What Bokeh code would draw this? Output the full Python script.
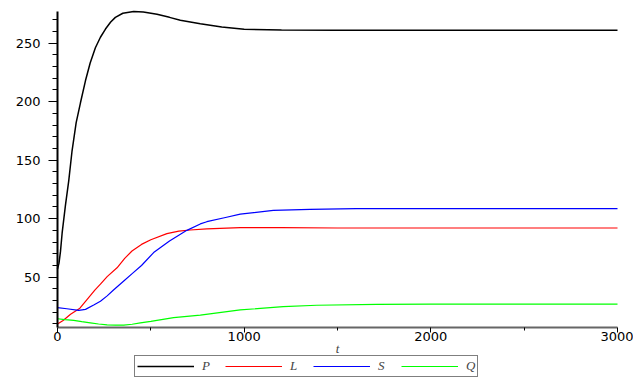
from bokeh.plotting import figure
from bokeh.models import Range1d, FixedTicker, Legend, LegendItem
from bokeh.embed import file_html
from bokeh.resources import INLINE

# P (black)
t_P = [0, 8, 16, 25, 43, 60, 78, 100, 123, 150, 175, 203, 230, 257, 285, 310, 350, 408,
       460, 533, 600, 658, 765, 880, 1000, 1200, 1500, 2000, 3000]
P = [57, 62, 72, 88, 112, 132, 158, 182, 199, 218, 233, 246, 255, 262, 268, 272, 275.5, 277,
     276.5, 274.6, 272, 269.5, 266.6, 263.8, 261.8, 261.2, 261, 261, 261]

# L (red)
t_L = [0, 30, 70, 120, 159, 200, 230, 266, 319, 360, 399, 450, 500, 586, 650, 711, 800,
       979, 1200, 1500, 2000, 3000]
L = [10, 13, 18.3, 23.5, 31, 39, 44, 50.5, 58, 66, 72.4, 78, 82, 87.2, 89.3, 90.3, 91.3,
     92.3, 92.3, 92, 92, 92]

# S (blue)
t_S = [0, 50, 114, 150, 194, 230, 266, 300, 355, 400, 450, 515, 600, 693, 765, 800, 900,
       979, 1156, 1353, 1600, 2000, 3000]
S = [24, 23, 21.7, 22.5, 26.2, 29.5, 34, 39, 46.7, 53, 60, 71, 81, 90, 95.5, 97.4, 101,
     103.8, 107, 108, 108.5, 108.5, 108.5]

# Q (green)
t_Q = [0, 40, 87, 130, 176, 220, 266, 310, 355, 400, 444, 500, 622, 765, 979, 1209, 1389,
       1710, 2000, 3000]
Q = [14.5, 13.8, 13.1, 12, 11, 10, 9.3, 9, 9.1, 9.8, 11, 12.3, 15.4, 17.5, 22, 24.8, 26,
     26.8, 27, 27]

x_major = [0, 1000, 2000, 3000]
x_minor = [500, 1500, 2500]
y_major = [50, 100, 150, 200, 250]
y_minor = [10, 20, 30, 40, 60, 70, 80, 90, 110, 120, 130, 140, 160, 170, 180, 190,
           210, 220, 230, 240, 260, 270]
x_min, x_max = 0, 3000
y_min, y_max = 7, 277

W, H = 633, 379
# pixel layout of the axes box inside the canvas
left_px, right_px, top_px, bottom_px = 57, 617, 11, 327
ux = (x_max - x_min) / (right_px - left_px)
uy = (y_max - y_min) / (bottom_px - top_px)

p = figure(width=W, height=H, output_backend="svg", toolbar_location=None,
           x_range=Range1d(x_min - left_px * ux, x_max + (W - right_px) * ux),
           y_range=Range1d(y_min - (H - bottom_px) * uy, y_max + top_px * uy),
           min_border=0)
p.outline_line_color = None
p.grid.visible = False
p.background_fill_color = "white"

rP = p.line(t_P, P, line_color="black", line_width=1.5)
rL = p.line(t_L, L, line_color="#ff0000", line_width=1.2)
rS = p.line(t_S, S, line_color="#0000ff", line_width=1.2)
rQ = p.line(t_Q, Q, line_color="#00ff00", line_width=1.2)

p.xaxis.ticker = FixedTicker(ticks=x_major, minor_ticks=x_minor)
p.yaxis.ticker = FixedTicker(ticks=y_major, minor_ticks=y_minor)

for ax in (p.xaxis, p.yaxis):
    ax.major_label_text_font = "DejaVu Sans"
    ax.major_label_text_font_size = "13px"
    ax.major_label_text_color = "black"
    ax.major_tick_line_color = "black"
    ax.minor_tick_line_color = "black"
    ax.major_tick_in = 0
    ax.minor_tick_in = 0

p.yaxis.fixed_location = x_min
p.yaxis.bounds = (y_min, y_max)
p.yaxis.axis_line_color = "black"
p.yaxis.axis_line_width = 2
p.yaxis.major_tick_out = 9
p.yaxis.minor_tick_out = 5
p.yaxis.major_label_standoff = 8

p.xaxis.fixed_location = y_min
p.xaxis.bounds = (x_min, x_max)
p.xaxis.axis_line_color = "#666666"
p.xaxis.axis_line_width = 2
p.xaxis.major_tick_out = 5
p.xaxis.minor_tick_out = 3
p.xaxis.major_label_standoff = -1
p.xaxis.axis_label = "t"
p.xaxis.axis_label_text_font = "Liberation Serif"
p.xaxis.axis_label_text_font_style = "italic"
p.xaxis.axis_label_text_font_size = "13px"
p.xaxis.axis_label_standoff = -3

legend = Legend(items=[LegendItem(label="P", renderers=[rP]),
                       LegendItem(label="L", renderers=[rL]),
                       LegendItem(label="S", renderers=[rS]),
                       LegendItem(label="Q", renderers=[rQ])],
                orientation="horizontal", location=(134, 2),
                padding=2, spacing=14, margin=0,
                glyph_width=57, glyph_height=10, label_height=10, label_width=9,
                label_standoff=8,
                label_text_font="Liberation Serif", label_text_font_style="italic",
                label_text_font_size="13px",
                border_line_color="black", border_line_width=1,
                background_fill_color="white", background_fill_alpha=1)
p.add_layout(legend)

open("out.html", "w").write(file_html(p, INLINE))
